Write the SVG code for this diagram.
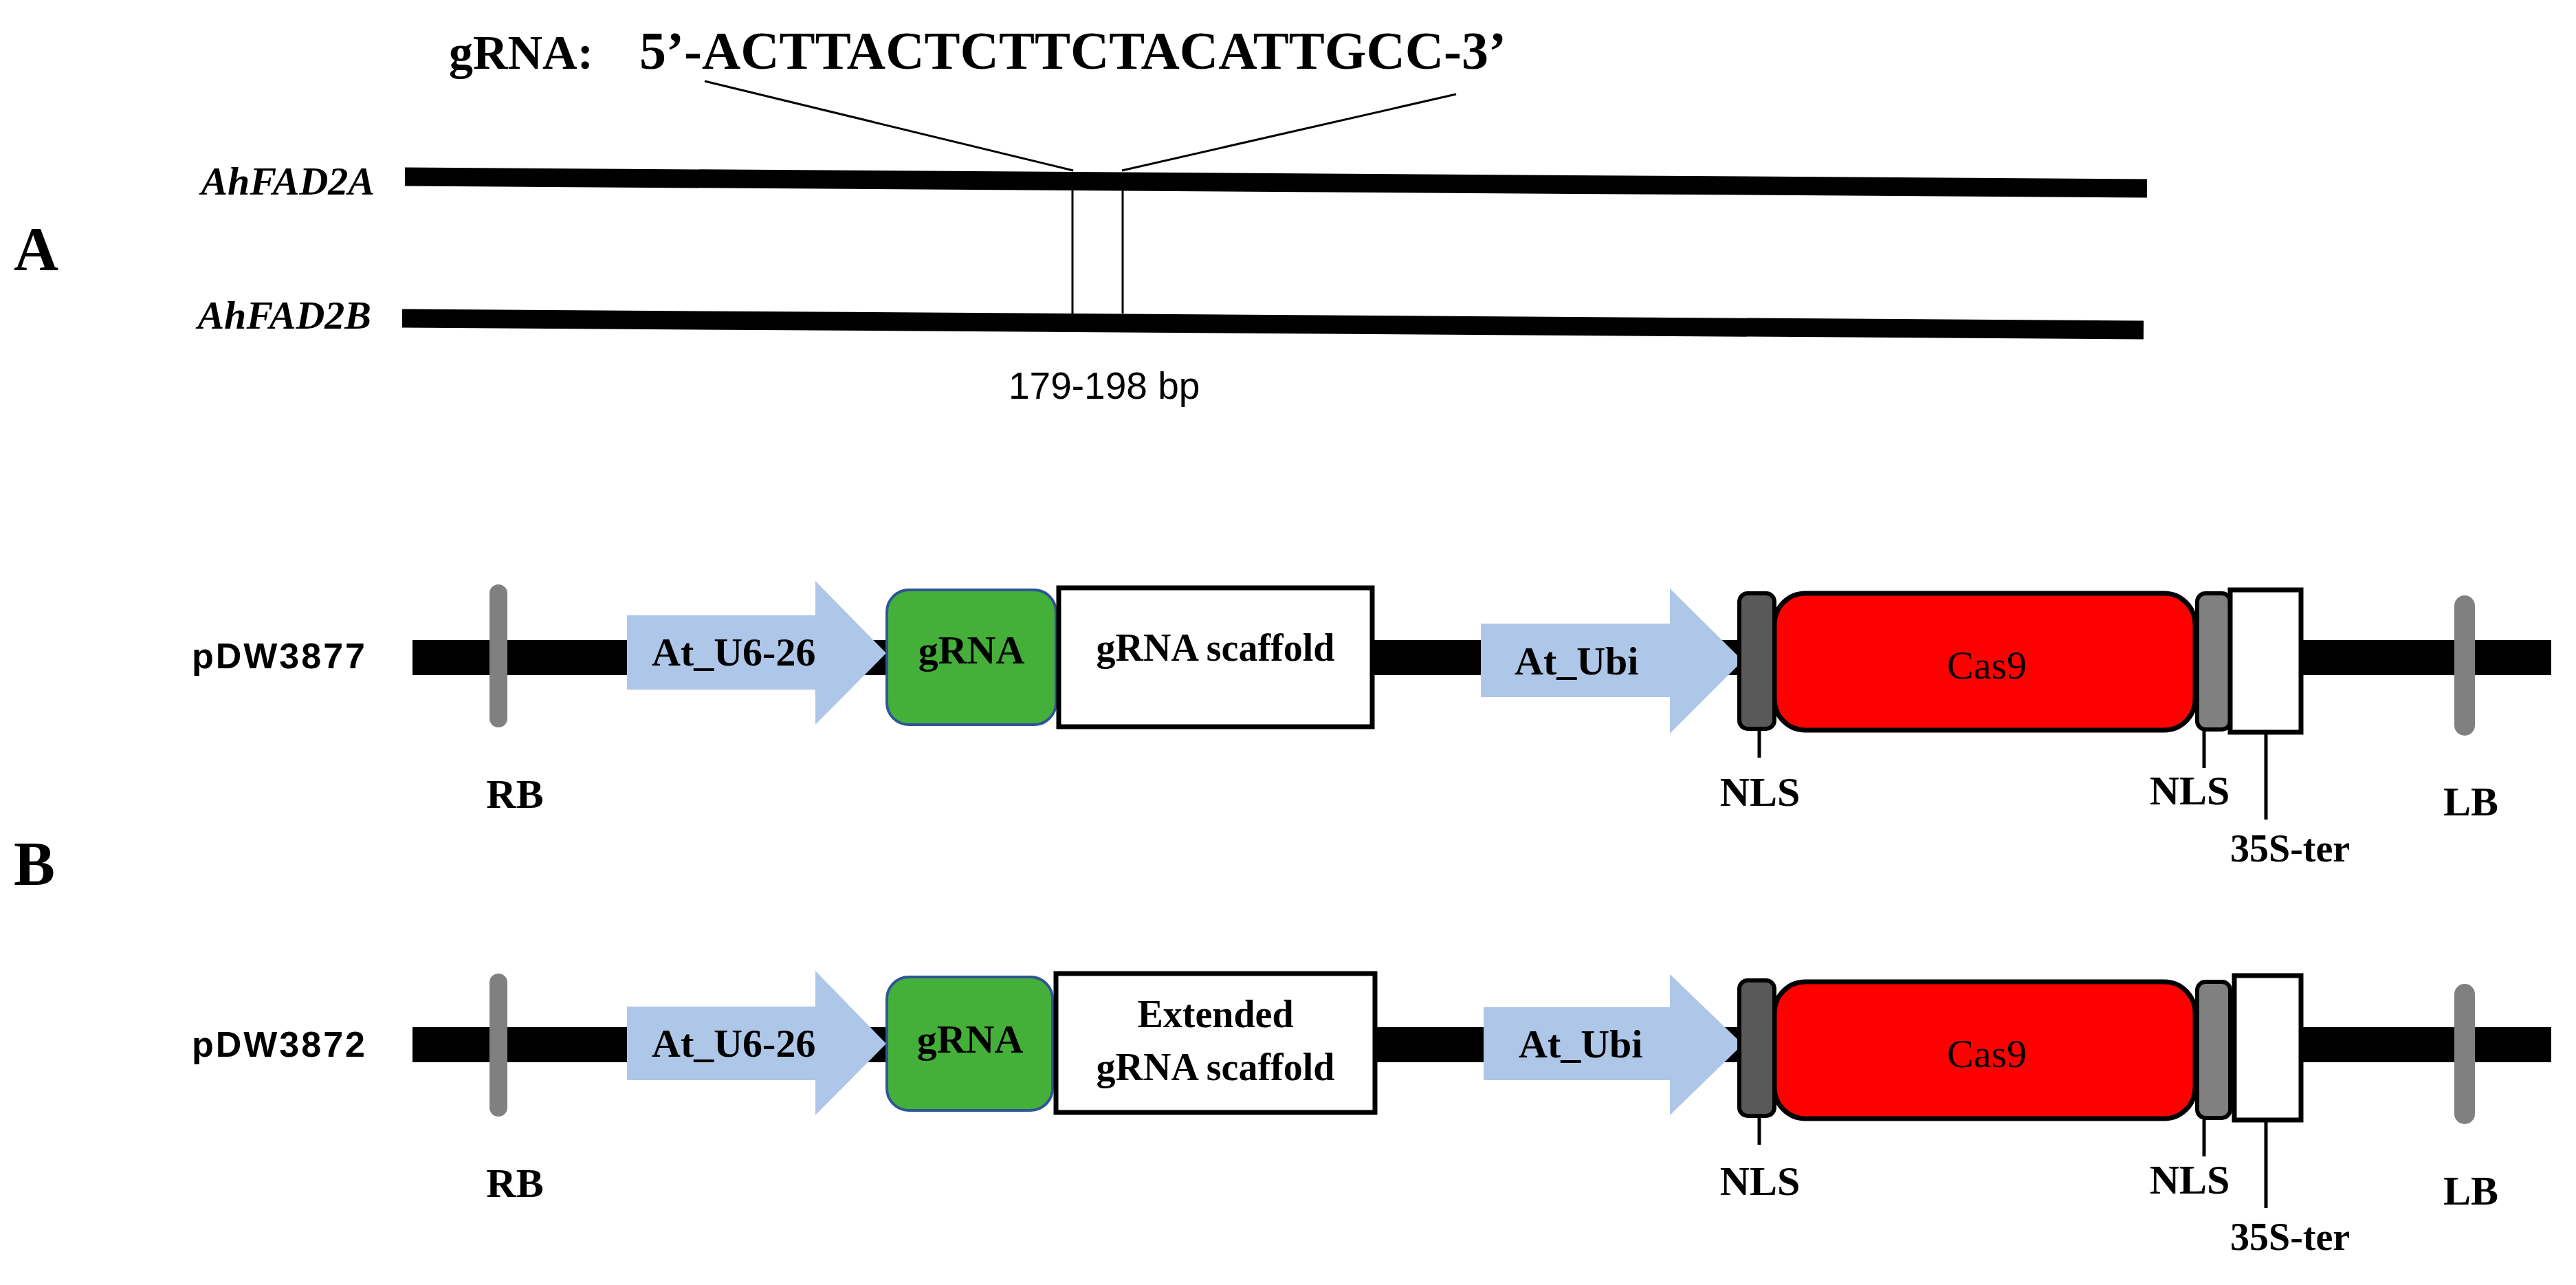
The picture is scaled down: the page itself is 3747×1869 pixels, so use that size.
<svg xmlns="http://www.w3.org/2000/svg" width="3747" height="1869" viewBox="0 0 3747 1869">
<style>
.s{font-family:"Liberation Serif","Times New Roman",serif;fill:#000}
.b{font-weight:bold}
.sans{font-family:"Liberation Sans",Arial,sans-serif}
.bb{fill:#000}
.bar{fill:#808080}
.arr{fill:#AEC6E8}
.grna{fill:#44B03A;stroke:#2E5597;stroke-width:4}
.box{fill:#fff;stroke:#000;stroke-width:7}
.tick{stroke:#000;stroke-width:5}
.nls1{fill:#595959;stroke:#000;stroke-width:6}
.nls2{fill:#808080;stroke:#000;stroke-width:6}
.cas{fill:#FF0000;stroke:#000;stroke-width:7}
.lbl{font-size:60px}
</style>
<rect width="3747" height="1869" fill="#fff"/>

<g id="panelA">
  <text class="s b" x="20" y="393" font-size="90">A</text>
  <text class="s b" x="653" y="100" font-size="70">gRNA:</text>
  <text class="s b" x="930" y="100" font-size="78">5’-ACTTACTCTTCTACATTGCC-3’</text>
  <text class="s b" x="545" y="283" font-size="58" font-style="italic" text-anchor="end">AhFAD2A</text>
  <text class="s b" x="540" y="478" font-size="58" font-style="italic" text-anchor="end">AhFAD2B</text>
  <line x1="589" y1="257" x2="3123" y2="274" stroke="#000" stroke-width="27"/>
  <line x1="585" y1="463" x2="3118" y2="480" stroke="#000" stroke-width="27"/>
  <line x1="1560" y1="268" x2="1560" y2="456" stroke="#000" stroke-width="3"/>
  <line x1="1633" y1="268" x2="1633" y2="456" stroke="#000" stroke-width="3"/>
  <text class="sans" x="1467" y="580" font-size="55">179-198 bp</text>
</g>
<g id="connectors">
  <line x1="1025" y1="118" x2="1561" y2="248" stroke="#000" stroke-width="3"/>
  <line x1="2118" y1="137" x2="1632" y2="248" stroke="#000" stroke-width="3"/>
</g>

<text class="s b" x="20" y="1287" font-size="90">B</text>

<g id="row1">
  <text class="sans b" x="279" y="972" font-size="52" textLength="252">pDW3877</text>
  <rect class="bb" x="600" y="931" width="3111" height="51"/>
  <rect class="bar" x="712" y="850" width="26" height="208" rx="13"/>
  <text class="s b lbl" x="749" y="1175" text-anchor="middle">RB</text>
  <polygon class="arr" points="912,895 1186,895 1186,845 1289,950 1186,1054 1186,1003 912,1003"/>
  <text class="s b" x="948" y="968" font-size="58">At_U6-26</text>
  <rect class="grna" x="1290" y="858" width="246" height="196" rx="32"/>
  <text class="s b" x="1413" y="965" font-size="58" text-anchor="middle">gRNA</text>
  <rect class="box" x="1540" y="855" width="456" height="202"/>
  <text class="s b" x="1768" y="961" font-size="56" text-anchor="middle">gRNA scaffold</text>
  <polygon class="arr" points="2154,907 2429,907 2429,856 2535,961 2429,1067 2429,1014 2154,1014"/>
  <text class="s b" x="2203" y="981" font-size="58">At_Ubi</text>
  <rect class="cas" x="2581" y="863" width="612" height="199" rx="45"/>
  <text class="s" x="2890" y="987" font-size="58" text-anchor="middle">Cas9</text>
  <rect class="nls1" x="2530" y="863" width="51" height="197" rx="12"/>
  <rect class="nls2" x="3196" y="863" width="48" height="198" rx="12"/>
  <rect class="box" x="3244" y="858" width="103" height="207"/>
  <line class="tick" x1="2559" y1="1060" x2="2559" y2="1102"/>
  <line class="tick" x1="3206" y1="1061" x2="3206" y2="1117"/>
  <line class="tick" x1="3296" y1="1065" x2="3296" y2="1192"/>
  <text class="s b lbl" x="2560" y="1172" text-anchor="middle">NLS</text>
  <text class="s b lbl" x="3185" y="1170" text-anchor="middle">NLS</text>
  <text class="s b" x="3244" y="1253" font-size="56">35S-ter</text>
  <rect class="bar" x="3570" y="866" width="30" height="204" rx="15"/>
  <text class="s b lbl" x="3594" y="1186" text-anchor="middle">LB</text>
</g>

<g id="row2">
  <text class="sans b" x="279" y="1537" font-size="52" textLength="252">pDW3872</text>
  <rect class="bb" x="600" y="1494" width="3111" height="51"/>
  <rect class="bar" x="712" y="1416" width="26" height="208" rx="13"/>
  <text class="s b lbl" x="749" y="1741" text-anchor="middle">RB</text>
  <polygon class="arr" points="912,1464 1186,1464 1186,1412 1289,1518 1186,1622 1186,1571 912,1571"/>
  <text class="s b" x="948" y="1537" font-size="58">At_U6-26</text>
  <rect class="grna" x="1290" y="1421" width="241" height="194" rx="32"/>
  <text class="s b" x="1411" y="1531" font-size="58" text-anchor="middle">gRNA</text>
  <rect class="box" x="1536" y="1416" width="464" height="202"/>
  <text class="s b" x="1768" y="1494" font-size="56" text-anchor="middle">Extended</text>
  <text class="s b" x="1768" y="1571" font-size="56" text-anchor="middle">gRNA scaffold</text>
  <polygon class="arr" points="2158,1465 2429,1465 2429,1417 2535,1519 2429,1622 2429,1571 2158,1571"/>
  <text class="s b" x="2209" y="1538" font-size="58">At_Ubi</text>
  <rect class="cas" x="2581" y="1428" width="612" height="199" rx="45"/>
  <text class="s" x="2890" y="1552" font-size="58" text-anchor="middle">Cas9</text>
  <rect class="nls1" x="2530" y="1426" width="51" height="197" rx="12"/>
  <rect class="nls2" x="3196" y="1428" width="48" height="198" rx="12"/>
  <rect class="box" x="3250" y="1419" width="97" height="210"/>
  <line class="tick" x1="2559" y1="1623" x2="2559" y2="1665"/>
  <line class="tick" x1="3206" y1="1626" x2="3206" y2="1682"/>
  <line class="tick" x1="3296" y1="1629" x2="3296" y2="1757"/>
  <text class="s b lbl" x="2560" y="1738" text-anchor="middle">NLS</text>
  <text class="s b lbl" x="3185" y="1736" text-anchor="middle">NLS</text>
  <text class="s b" x="3244" y="1818" font-size="56">35S-ter</text>
  <rect class="bar" x="3570" y="1431" width="30" height="204" rx="15"/>
  <text class="s b lbl" x="3594" y="1752" text-anchor="middle">LB</text>
</g>
</svg>
